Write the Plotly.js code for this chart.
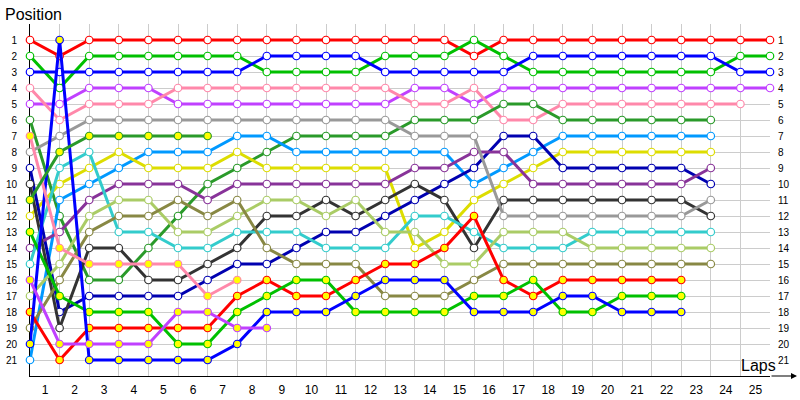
<!DOCTYPE html>
<html><head><meta charset="utf-8">
<script src="https://cdn.plot.ly/plotly-3.0.1.min.js"></script>
<style>html,body{margin:0;padding:0;background:#fff}#chart{width:800px;height:400px}</style>
</head><body><div id="chart"></div>
<script>
// laps 0..25 (start grid = lap 0)
const laps = [0,1,2,3,4,5,6,7,8,9,10,11,12,13,14,15,16,17,18,19,20,21,22,23,24,25];
const lapLabels = ["1","2","3","4","5","6","7","8","9","10","11","12","13","14","15","16","17","18","19","20","21","22","23","24","25",""];
const positions = [1,2,3,4,5,6,7,8,9,10,11,12,13,14,15,16,17,18,19,20,21];

// position of each car at each lap
const R  = [1,2,1,1,1,1,1,1,1,1,1,1,1,1,1,2,1,1,1,1,1,1,1,1,1,1];
const G  = [2,4,2,2,2,2,2,2,3,3,3,3,2,2,2,1,2,3,3,3,3,3,3,3,2,2];
const B  = [3,3,3,3,3,3,3,3,2,2,2,2,3,3,3,3,3,2,2,2,2,2,2,2,3,3];
const V  = [5,5,4,4,4,5,5,5,5,5,5,5,5,4,4,5,4,4,4,4,4,4,4,4,4,4];
const P  = [4,6,5,5,5,4,4,4,4,4,4,4,4,5,5,4,6,6,5,5,5,5,5,5,5];
const F  = [6,12,16,16,14,12,10,9,8,7,7,7,7,6,6,6,5,5,6,6,6,6,6,6];
const LB = [21,11,10,9,8,8,8,7,7,8,8,8,8,8,8,10,9,8,7,7,7,7,7,7];
const Y  = [12,10,9,8,9,9,9,8,9,9,9,9,9,14,13,11,10,9,8,8,8,8,8,8];
const DB = [9,18,17,17,17,17,16,15,15,14,13,13,12,11,10,9,7,7,9,9,9,9,9,10];
const DP = [14,13,11,10,10,10,11,10,10,10,10,10,10,9,9,8,8,10,10,10,10,10,10,9];
const K  = [10,19,14,14,16,16,15,14,12,12,11,12,11,10,11,14,11,11,11,11,11,11,11,12];
const GR = [8,7,6,6,6,6,6,6,6,6,6,6,6,7,7,7,12,12,12,12,12,12,12,11];
const C  = [15,9,8,13,13,14,14,13,13,13,14,14,14,12,12,13,14,14,14,13,13,13,13,13];
const LO = [17,15,12,11,11,13,13,12,11,11,12,11,13,13,15,15,13,13,13,14,14,14,14,14];
const O  = [19,16,13,12,12,11,12,11,14,15,15,15,17,17,17,16,15,15,15,15,15,15,15,15];
const RY = [18,21,19,19,19,19,19,17,16,17,17,16,15,15,14,12,16,17,16,16,16,16,16];
const GY = [13,17,18,18,18,20,20,18,17,16,16,18,18,18,18,17,17,16,18,18,17,17,17];
const BY = [20,1,21,21,21,21,21,20,18,18,18,17,16,16,16,18,18,18,17,17,18,18,18];
const VY = [16,20,20,20,20,18,18,19,19];
const PY = [7,14,15,15,15,15,17,16];
const FY = [11,8,7,7,7,7,7];

const W = '#ffffff', YF = '#ffff00';
const series = [
  [R,'#ff0000',W],[G,'#00c000',W],[B,'#0000ff',W],[V,'#c040ff',W],[P,'#ff88aa',W],
  [F,'#2a9a2a',W],[LB,'#0099ff',W],[Y,'#dddd00',W],[DB,'#0000b0',W],[DP,'#883399',W],
  [K,'#333333',W],[GR,'#999999',W],[C,'#33cccc',W],[LO,'#aacc66',W],[O,'#888844',W],
  [RY,'#ff0000',YF],[GY,'#00c000',YF],[BY,'#0000ff',YF],[VY,'#c040ff',YF],[PY,'#ff88aa',YF],[FY,'#2a9a2a',YF]
];

const traces = series.map(([pos,col,fill]) => ({
  x: laps.slice(0,pos.length), y: pos, type:'scatter', mode:'lines+markers',
  line:{color:col,width:3}, cliponaxis:false, hoverinfo:'skip', showlegend:false,
  marker:{symbol:'circle',size:7.5,color:fill,line:{color:col,width:1.2}}
}));
traces.push({x:[0],y:[1],yaxis:'y2',type:'scatter',mode:'markers',marker:{opacity:0},hoverinfo:'skip',showlegend:false});

const grid = '#cccccc';
const layout = {
  width:800, height:400,
  margin:{l:30,r:30,t:24,b:24,pad:0},
  paper_bgcolor:'#fff', plot_bgcolor:'#fff', showlegend:false,
  font:{family:'Liberation Sans, Arial, sans-serif', size:10, color:'#000'},
  xaxis:{range:[0,25], autorange:false, tickmode:'array', tickvals:laps, ticktext:lapLabels,
    ticklabelshift:15, ticklabelstandoff:3, showgrid:true, gridcolor:grid, gridwidth:1,
    zeroline:false, showline:true, linecolor:'#000', linewidth:1, ticks:'', tickfont:{size:12},
    layer:'below traces', fixedrange:true},
  yaxis:{range:[22,0], autorange:false, tickmode:'array', tickvals:positions,
    showgrid:true, gridcolor:grid, gridwidth:1, zeroline:false, showline:true, linecolor:'#000',
    linewidth:1, ticks:'', ticklabelstandoff:10, tickfont:{size:10}, layer:'below traces', fixedrange:true},
  yaxis2:{overlaying:'y', side:'right', range:[22,0], autorange:false, tickmode:'array', tickvals:positions,
    showgrid:false, zeroline:false, showline:false, ticks:'', ticklabelstandoff:7, tickfont:{size:10}, fixedrange:true},
  shapes:[
    // blank strip above the first row so vertical grid starts at row 1
    {type:'rect', layer:'between', xref:'paper', yref:'paper', x0:0.0015, x1:1.001, y0:0.958, y1:1,
     fillcolor:'#ffffff', line:{width:0}}
  ],
  annotations:[
    {text:'Position', xref:'paper', yref:'paper', x:-0.036, y:1.026, xanchor:'left', yanchor:'middle',
     showarrow:false, font:{size:16}},
    {text:'Laps', xref:'paper', yref:'paper', x:0.984, y:0.031, xanchor:'center', yanchor:'middle',
     showarrow:false, font:{size:16}},
    {text:'', xref:'paper', yref:'paper', x:1.0365, y:0, ax:-27, ay:0, showarrow:true,
     arrowhead:2, arrowsize:1, arrowwidth:1.2, arrowcolor:'#000'}
  ]
};
Plotly.newPlot('chart', traces, layout, {staticPlot:true, displayModeBar:false});
</script></body></html>
